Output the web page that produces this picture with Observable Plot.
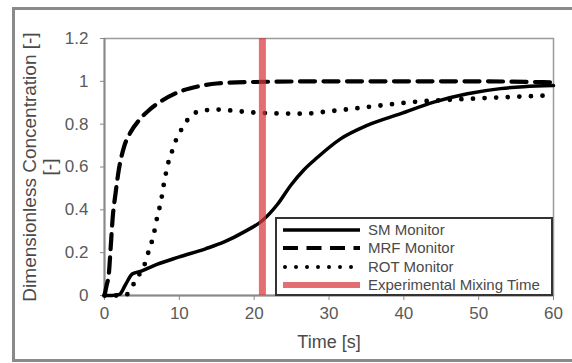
<!DOCTYPE html>
<html>
<head>
<meta charset="utf-8">
<script src="https://cdn.jsdelivr.net/npm/d3@7"></script>
<script src="https://cdn.jsdelivr.net/npm/@observablehq/plot@0.6"></script>
<style>
  html, body { margin: 0; padding: 0; background: #fff; overflow: hidden; }
  #wrap { position: relative; width: 572px; height: 363px; overflow: hidden; font-family: "Liberation Sans", Arial, sans-serif; }
  #outer { position: absolute; left: 12px; top: 7px; width: 600px; height: 349px; border: 3px solid #8a8a8a; }
  #chart { position: absolute; left: 0; top: 0; }
  #legend { position: absolute; left: 275px; top: 217px; width: 274px; height: 75px; border: 2px solid #333; background: #fff; }
  .row { position: absolute; left: 0; height: 18px; width: 274px; }
  .row svg { position: absolute; left: 6px; top: 0; }
  .row span { position: absolute; left: 91px; top: 0px; font-size: 15px; line-height: 18px; color: #4a4a4a; white-space: nowrap; }
</style>
</head>
<body>
<div id="wrap">
  <div id="outer"></div>
  <div id="chart"></div>
  <div id="legend"></div>
</div>
<script>
// Tick labels
const xTicks = [0, 10, 20, 30, 40, 50, 60];
const yTicks = [0, 0.2, 0.4, 0.6, 0.8, 1, 1.2];

// SM Monitor (solid)
const smTime = [0, 1, 2, 2.8, 3.7, 5, 7, 10, 13.5, 16, 18.6, 21.1, 23.1, 24.9, 26.6, 28.4, 31.5, 35.1, 39.6, 44, 48.5, 52.9, 56, 60];
const smConc = [0, 0, 0.005, 0.05, 0.10, 0.115, 0.145, 0.18, 0.218, 0.25, 0.296, 0.35, 0.425, 0.515, 0.585, 0.643, 0.73, 0.794, 0.849, 0.903, 0.942, 0.966, 0.975, 0.98];

// MRF Monitor (dashed)
const mrfTime = [0, 0.3, 0.58, 0.8, 1.1, 1.47, 1.9, 2.6, 3.5, 4.6, 5.9, 7.7, 9.9, 12.6, 15, 20, 30, 40, 50, 60];
const mrfConc = [0, 0.05, 0.10, 0.21, 0.366, 0.475, 0.584, 0.693, 0.763, 0.818, 0.864, 0.91, 0.95, 0.977, 0.99, 0.997, 1.0, 1.0, 1.0, 0.995];

// ROT Monitor (dotted)
const rotTime = [0, 2.5, 3, 3.5, 4, 4.5, 5, 5.48, 5.93, 6.37, 6.73, 7.04, 7.4, 7.7, 7.95, 8.24, 8.6, 9.1, 9.6, 10.3, 11.05, 11.9, 13.3, 15.1, 18, 21.1, 26.5, 30, 35.1, 41.8, 48.5, 55, 60];
const rotConc = [0, 0, 0.005, 0.03, 0.06, 0.09, 0.12, 0.156, 0.21, 0.257, 0.31, 0.366, 0.417, 0.47, 0.525, 0.576, 0.63, 0.68, 0.73, 0.776, 0.818, 0.849, 0.864, 0.868, 0.86, 0.852, 0.849, 0.86, 0.88, 0.905, 0.918, 0.928, 0.935];

// Experimental mixing time
const mixingTime = [21.1];

const seriesNames = ["SM Monitor", "MRF Monitor", "ROT Monitor", "Experimental Mixing Time"];

const toRows = (ts, vs) => ts.map((t, i) => ({t, v: vs[i]}));
const sm = toRows(smTime, smConc);
const mrf = toRows(mrfTime, mrfConc);
const rot = toRows(rotTime, rotConc);

const fmt = d => String(+d.toFixed(1));
const redColor = "#d8383c";

const chart = Plot.plot({
  width: 572,
  height: 363,
  marginLeft: 104,
  marginRight: 19,
  marginTop: 38,
  marginBottom: 68,
  style: {fontFamily: "Liberation Sans, Arial, sans-serif", fontSize: "17px", color: "#555", background: "transparent", overflow: "visible"},
  x: {domain: [0, 60]},
  y: {domain: [0, 1.2]},
  marks: [
    Plot.frame({stroke: "#9a9a9a", strokeWidth: 1.5}),
    Plot.axisY({ticks: yTicks, tickFormat: fmt, tickSize: 4, tickPadding: 12, label: null, stroke: "#888", fill: "#5a5a5a"}),
    Plot.axisX({ticks: xTicks, tickFormat: fmt, tickSize: 5, tickPadding: 6, label: null, stroke: "#888", fill: "#5a5a5a"}),
    Plot.ruleX([0], {stroke: "#8a8a8a", strokeWidth: 2}),
    Plot.ruleY([0], {stroke: "#8a8a8a", strokeWidth: 2}),
    Plot.line(sm, {x: "t", y: "v", stroke: "#000", strokeWidth: 3.5, curve: "monotone-x"}),
    Plot.line(mrf, {x: "t", y: "v", stroke: "#000", strokeWidth: 4.2, strokeDasharray: "15,8.5", curve: "monotone-x"}),
    Plot.line(rot, {x: "t", y: "v", stroke: "#000", strokeWidth: 4.8, strokeDasharray: "0,11.6", strokeLinecap: "round", curve: "monotone-x"}),
    Plot.ruleX(mixingTime, {stroke: redColor, strokeWidth: 7, strokeOpacity: 0.72}),
    Plot.text(["Dimensionless Concentration [-]\n[-]"], {frameAnchor: "left", rotate: -90, dx: -65, textAnchor: "middle", lineAnchor: "middle", lineHeight: 1.08, fontSize: 19, fill: "#4a4a4a"}),
    Plot.text(["Time [s]"], {frameAnchor: "bottom", dy: 52, fontSize: 18, fill: "#4a4a4a"})
  ]
});
document.getElementById("chart").appendChild(chart);

// Legend
const legend = document.getElementById("legend");
const samples = [
  `<line x1="0" y1="9" x2="77" y2="9" stroke="#000" stroke-width="3.5"/>`,
  `<line x1="0" y1="9" x2="77" y2="9" stroke="#000" stroke-width="4.2" stroke-dasharray="15,8.5"/>`,
  `<line x1="2" y1="9" x2="77" y2="9" stroke="#000" stroke-width="4" stroke-dasharray="0,11" stroke-linecap="round"/>`,
  `<line x1="0" y1="9" x2="77" y2="9" stroke="${redColor}" stroke-opacity="0.72" stroke-width="6"/>`
];
const rowTops = [2, 20, 39, 57];
seriesNames.forEach((name, i) => {
  const row = document.createElement("div");
  row.className = "row";
  row.style.top = rowTops[i] + "px";
  row.innerHTML = `<svg width="80" height="18">${samples[i]}</svg><span>${name}</span>`;
  legend.appendChild(row);
});
</script>
</body>
</html>
